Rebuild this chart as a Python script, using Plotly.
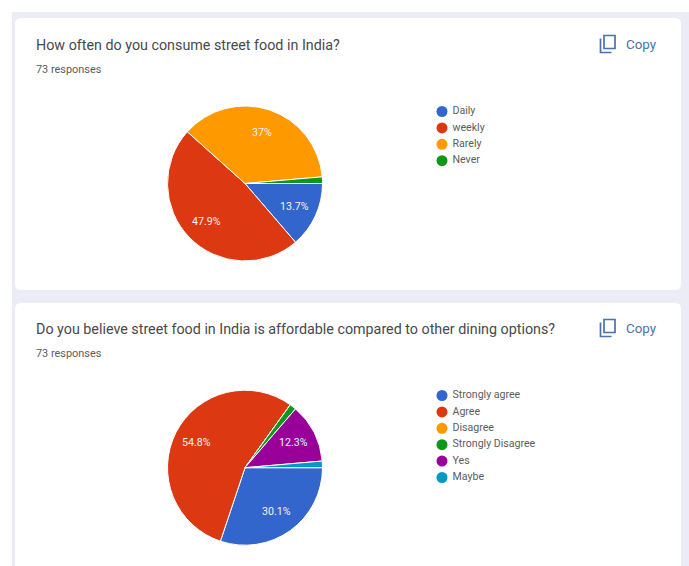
import math
import plotly.graph_objects as go

FONT = "Roboto, Arial, sans-serif"
W, H = 689, 566

# Survey answers: counts out of 73 responses
q1_title = "How often do you consume street food in India?"
q1_labels = ["Daily", "weekly", "Rarely", "Never"]
q1_counts = [10, 35, 27, 1]

q2_title = "Do you believe street food in India is affordable compared to other dining options?"
q2_labels = ["Strongly agree", "Agree", "Disagree", "Strongly Disagree", "Yes", "Maybe"]
q2_counts = [22, 40, 0, 1, 9, 1]

responses = "73 responses"
palette = ["#3366CC", "#DC3912", "#FF9900", "#109618", "#990099", "#0099C6"]

PAGE = "#ECECF7"
TEXT = "#47494C"
MUTED = "#5A5D60"
LINK = "#4A72A8"
PIE_R = 77.5
PIE_CX = 245
LABEL_RADIUS = 0.70  # slice labels sit at this fraction of the pie radius
MIN_LABELLED = 5  # slices under this percentage carry no label
LEGEND_DOT_X = 442
LEGEND_STEP = 16.4


def rounded(x0, y0, x1, y1, r):
    return (f"M{x0+r},{y0} L{x1-r},{y0} Q{x1},{y0} {x1},{y0+r} L{x1},{y1-r} Q{x1},{y1} {x1-r},{y1} "
            f"L{x0+r},{y1} Q{x0},{y1} {x0},{y1-r} L{x0},{y0+r} Q{x0},{y0} {x0+r},{y0} Z")


fig = go.Figure()
shapes = []
annotations = []


def shape(**kw):
    shapes.append(dict(xref="x", yref="y", layer="below", **kw))


def text(x, y, s, size, color, anchor="left"):
    annotations.append(dict(x=x, y=y, xref="x", yref="y", text=s, showarrow=False, xanchor=anchor,
                            yanchor="middle", align="left",
                            font=dict(family=FONT, size=size, color=color)))


# White page edge around the lavender panel
shape(type="rect", x0=0, x1=W, y0=0, y1=12, fillcolor="#FFFFFF", line_width=0)
shape(type="rect", x0=0, x1=12, y0=0, y1=H, fillcolor="#FFFFFF", line_width=0)


def slice_labels(counts, cy):
    # Percentage labels placed along each slice's middle angle, clockwise from 3 o'clock
    total = sum(counts)
    running = 0
    for c in counts:
        pct = 100 * c / total
        if pct >= MIN_LABELLED:
            angle = 2 * math.pi * (running + c / 2) / total
            text(PIE_CX + LABEL_RADIUS * PIE_R * math.cos(angle),
                 cy + LABEL_RADIUS * PIE_R * math.sin(angle),
                 f"{pct:.3g}%", 10.6, "#F4F4F4", anchor="center")
        running += c


def card(top, bottom, title, labels, counts, cy, legend_top, title_y):
    shape(type="path", path=rounded(15, top, 681, bottom, 6), fillcolor="#FFFFFF", line_width=0)
    text(34, title_y, title, 14.3, TEXT)
    text(34, title_y + 24.5, responses, 10.9, MUTED)
    text(624, title_y - 1, "Copy", 13.4, LINK)

    # Copy icon: front sheet plus the back sheet's corner
    ix, iy = 600.5, title_y - 9.5
    shape(type="rect", x0=ix + 3.5, x1=ix + 14.5, y0=iy, y1=iy + 13,
          line=dict(color=LINK, width=1.7), fillcolor="rgba(0,0,0,0)")
    shape(type="path", path=f"M{ix},{iy+3} L{ix},{iy+17} L{ix+11},{iy+17}",
          line=dict(color=LINK, width=1.7))

    fig.add_trace(go.Pie(
        labels=labels, values=counts, textinfo="none",
        sort=False, direction="clockwise", rotation=90,
        marker=dict(colors=palette[:len(labels)], line=dict(color="#FFFFFF", width=1)),
        domain=dict(x=[(PIE_CX - PIE_R) / W, (PIE_CX + PIE_R) / W],
                    y=[1 - (cy + PIE_R) / H, 1 - (cy - PIE_R) / H]),
        showlegend=False, hoverinfo="label+percent",
    ))
    slice_labels(counts, cy)

    # Legend rows
    ys = [legend_top + i * LEGEND_STEP for i in range(len(labels))]
    fig.add_trace(go.Scatter(
        x=[LEGEND_DOT_X] * len(labels), y=ys, mode="markers+text", text=[f" {s}" for s in labels],
        textposition="middle right", textfont=dict(family=FONT, size=10.6, color=MUTED),
        marker=dict(size=11, color=palette[:len(labels)]),
        showlegend=False, hoverinfo="skip", xaxis="x", yaxis="y",
    ))


card(18, 290, q1_title, q1_labels, q1_counts, 183.5, 111.5, 45)
card(303, 580, q2_title, q2_labels, q2_counts, 467.7, 395.5, 329)

fig.update_layout(
    width=W, height=H, margin=dict(l=0, r=0, t=0, b=0),
    paper_bgcolor=PAGE, plot_bgcolor="rgba(0,0,0,0)",
    xaxis=dict(range=[0, W], visible=False, fixedrange=True),
    yaxis=dict(range=[H, 0], visible=False, fixedrange=True),
    shapes=shapes, annotations=annotations,
)
fig.write_html("out.html")
